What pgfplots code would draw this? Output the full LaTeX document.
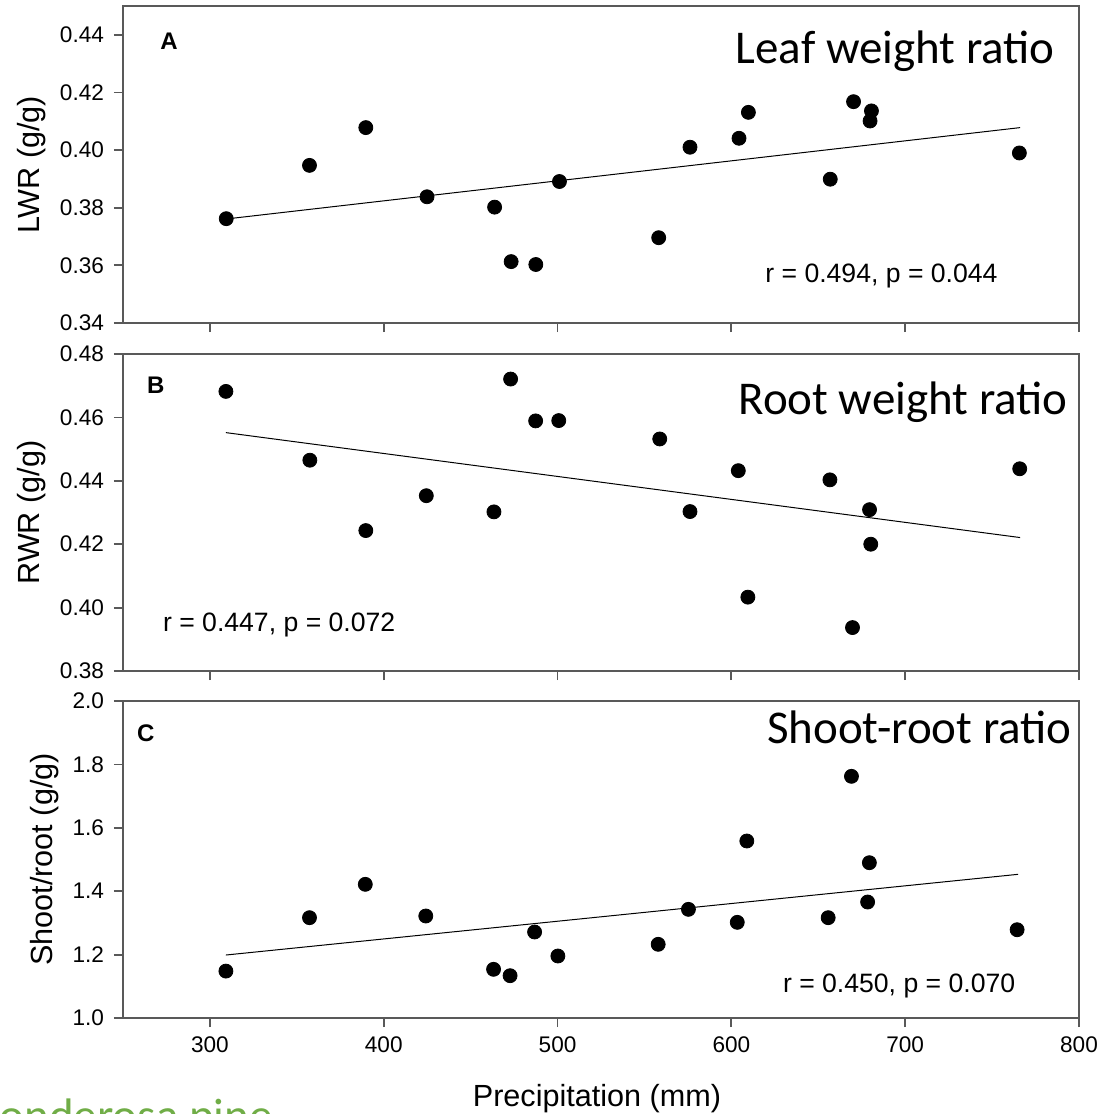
\documentclass[border=0pt]{standalone}
\usepackage{fontspec}
\setmainfont{Liberation Sans}
\newfontfamily\carlito{Carlito}
\usepackage{pgfplots}
\pgfplotsset{compat=1.18}
\definecolor{framegray}{HTML}{595959}
\definecolor{titlegreen}{HTML}{70AD47}

% 1 px of the reference = 0.5pt
\pgfplotsset{
  panel/.style={
    width=478pt, height=158.5pt, scale only axis,
    xmin=250, xmax=800, xtick={300,400,...,800},
    axis line style={framegray, line width=0.9pt},
    tick style={framegray, line width=0.9pt},
    tick align=outside, tick pos=left,
    major tick length=4.5pt,
    ticklabel style={font=\fontsize{11.3}{13}\selectfont},
    yticklabel style={xshift=-1.5pt},
    xticklabel style={yshift=-1.5pt},
    label style={font=\fontsize{15.3}{18}\selectfont},
    /pgf/number format/assume math mode=true,
    clip=false,
  },
  dots/.style={only marks, mark=*, mark size=3.5pt, black, mark options={fill=black}},
  fitline/.style={no marks, black, line width=0.5pt},
}
\newcommand{\paneltitle}{\carlito\fontsize{23.5}{28}\selectfont}
\newcommand{\stat}{\fontsize{13.3}{16}\selectfont}
\newcommand{\letter}{\bfseries\fontsize{12}{14}\selectfont}

\begin{document}
\begin{tikzpicture}

% ---- A: leaf weight ratio
\begin{axis}[panel, at={(61.5pt,-3pt)}, anchor=north west,
  ymin=0.34, ymax=0.45, ytick={0.34,0.36,0.38,0.40,0.42,0.44},
  yticklabel style={/pgf/number format/.cd, fixed, fixed zerofill, precision=2},
  xticklabels={}, ylabel={LWR (g/g)}]
\addplot[dots] coordinates {
  (309.4,0.3762) (357.3,0.3947) (389.7,0.4078) (424.9,0.3838) (463.8,0.3802)
  (473.3,0.3613) (487.5,0.3603) (501.1,0.3891) (558.2,0.3696) (576.2,0.4010)
  (604.4,0.4041) (609.8,0.4131) (656.9,0.3899) (670.3,0.4168) (680.6,0.4136)
  (679.8,0.4101) (765.7,0.3990)};
\addplot[fitline] coordinates {(309.4,0.3761) (766.1,0.4078)};
\node[anchor=base east, inner sep=0pt, font=\paneltitle] at (rel axis cs:0.975,0.8196) {Leaf weight ratio};
\node[anchor=base west, inner sep=0pt, font=\stat] at (rel axis cs:0.6715,0.1266) {r = 0.494, p = 0.044};
\node[anchor=base west, inner sep=0pt, font=\letter] at (rel axis cs:0.0387,0.864) {A};
\end{axis}

% ---- B: root weight ratio
\begin{axis}[panel, at={(61.5pt,-177pt)}, anchor=north west,
  ymin=0.38, ymax=0.48, ytick={0.38,0.40,0.42,0.44,0.46,0.48},
  yticklabel style={/pgf/number format/.cd, fixed, fixed zerofill, precision=2},
  xticklabels={}, ylabel={RWR (g/g)}]
\addplot[dots] coordinates {
  (309.2,0.4682) (357.5,0.4465) (389.7,0.4243) (424.5,0.4353) (463.4,0.4302)
  (473.0,0.4721) (487.4,0.4589) (500.7,0.4590) (558.8,0.4532) (576.2,0.4303)
  (604.0,0.4432) (609.5,0.4033) (656.7,0.4403) (669.7,0.3937) (679.5,0.4309)
  (680.2,0.4200) (765.9,0.4438)};
\addplot[fitline] coordinates {(309.2,0.4552) (766.1,0.4221)};
\node[anchor=base east, inner sep=0pt, font=\paneltitle] at (rel axis cs:0.9885,0.8076) {Root weight ratio};
\node[anchor=base west, inner sep=0pt, font=\stat] at (rel axis cs:0.0415,0.124) {r = 0.447, p = 0.072};
\node[anchor=base west, inner sep=0pt, font=\letter] at (rel axis cs:0.0248,0.876) {B};
\end{axis}

% ---- C: shoot-root ratio
\begin{axis}[panel, at={(61.5pt,-350.5pt)}, anchor=north west,
  ymin=1.0, ymax=2.0, ytick={1.0,1.2,1.4,1.6,1.8,2.0},
  yticklabel style={/pgf/number format/.cd, fixed, fixed zerofill, precision=1},
  ylabel={Shoot/root (g/g)}, xlabel={Precipitation (mm)},
  xlabel style={at={(axis description cs:0.5,0)}, anchor=base, yshift=-44pt, xshift=-2pt}]
\addplot[dots] coordinates {
  (309.2,1.148) (357.3,1.3165) (389.4,1.4217) (424.2,1.3218) (463.2,1.1536)
  (472.7,1.1335) (486.8,1.2713) (500.2,1.1956) (557.9,1.2325) (575.3,1.3428)
  (603.4,1.3018) (608.9,1.5584) (655.7,1.3165) (669.1,1.7624) (678.4,1.3659)
  (679.4,1.4899) (764.4,1.2785)};
\addplot[fitline] coordinates {(309.2,1.1987) (765.0,1.4533)};
\node[anchor=base east, inner sep=0pt, font=\paneltitle] at (rel axis cs:0.9927,0.8675) {Shoot-root ratio};
\node[anchor=base west, inner sep=0pt, font=\stat] at (rel axis cs:0.690,0.079) {r = 0.450, p = 0.070};
\node[anchor=base west, inner sep=0pt, font=\letter] at (rel axis cs:0.0143,0.872) {C};
\end{axis}

% species caption, cut by the lower edge as in the original slide
\node[anchor=base west, inner sep=0pt, text=titlegreen, font=\paneltitle] at (-12pt,-565.5pt) {Ponderosa pine};

\pgfresetboundingbox
\path[use as bounding box] (0,0) rectangle (549.5pt,-557pt);
\end{tikzpicture}
\end{document}
